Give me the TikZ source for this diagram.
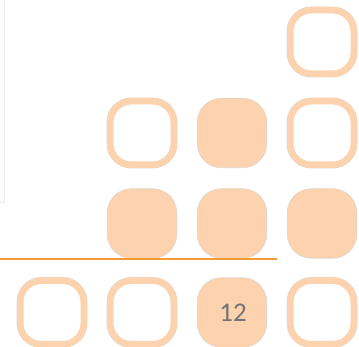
\documentclass[tikz,border=0pt]{standalone}
\usepackage{fontspec}
\setmainfont{Carlito}
\definecolor{peach}{HTML}{FCD3AE}
\definecolor{edgegray}{HTML}{E2D6CC}
\definecolor{lineorange}{HTML}{F79A33}
\definecolor{framegray}{HTML}{EBEBEB}
\definecolor{numgray}{HTML}{737373}
\begin{document}
\begin{tikzpicture}[x=1pt,y=-1pt,
  openbox/.style={draw=peach,line width=6.5pt,fill=white,rounded corners=21pt,
    minimum width=63.5pt,minimum height=63.5pt,inner sep=0pt,
    preaction={draw=edgegray,line width=7.3pt}},
  fullbox/.style={fill=peach,draw=edgegray,line width=0.6pt,rounded corners=24pt,
    minimum width=69.5pt,minimum height=69.5pt,inner sep=0pt,
    font=\fontsize{27pt}{30pt}\selectfont,text=numgray}]
\useasboundingbox (0,0) rectangle (359,347);
% light frame corner at left
\draw[framegray,line width=1pt] (4.5,0) -- (4.5,202.5) -- (0,202.5);
% row 1
\node[openbox] (b14) at (322,42) {};
% row 2
\node[openbox] (b22) at (142,133) {};
\node[fullbox] (b23) at (232,133) {};
\node[openbox] (b24) at (322,133) {};
% row 3
\node[fullbox] (b32) at (142,223.5) {};
\node[fullbox] (b33) at (232,223.5) {};
\node[fullbox] (b34) at (322,223.5) {};
% orange line
\draw[lineorange,line width=2.4pt] (0,258.8) -- (277,258.8);
% row 4
\node[openbox] (b41) at (52,312.5) {};
\node[openbox] (b42) at (142,312.5) {};
\node[fullbox] (b43) at (232,312.5) {\hspace{2pt}12};
\node[openbox] (b44) at (322,312.5) {};
\end{tikzpicture}
\end{document}
